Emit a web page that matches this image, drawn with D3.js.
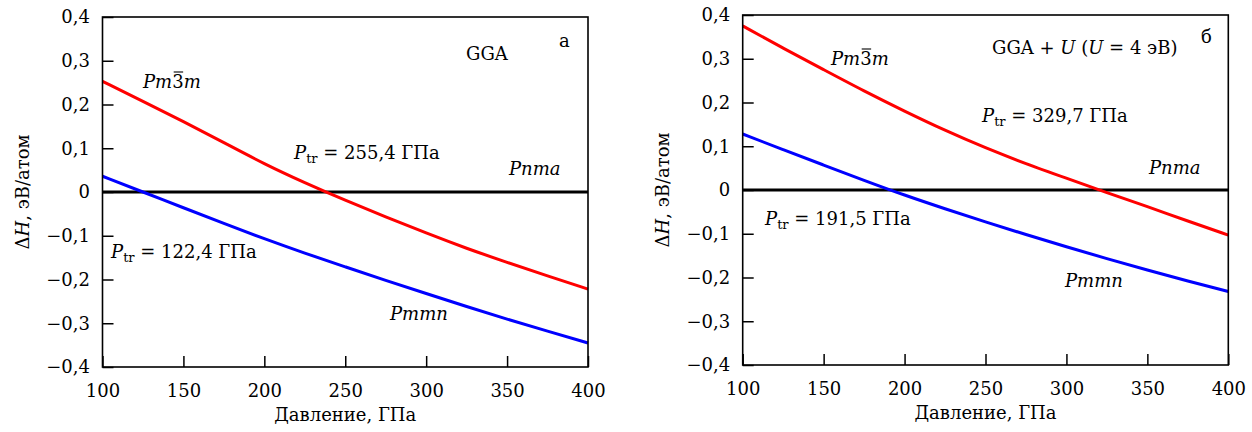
<!DOCTYPE html>
<html>
<head>
<meta charset="utf-8">
<script src="https://cdn.jsdelivr.net/npm/d3@7"></script>
<style>
  body { margin: 0; background: #fff; }
  svg { display: block; }
  .axis line { stroke: #000; stroke-width: 1.5px; }
  .axis path { display: none; }
</style>
</head>
<body>
<svg width="1252" height="432"></svg>
<script>
// pressure grid, ГПа
var pressure = [100, 125, 150, 175, 200, 225, 250, 275, 300, 325, 350, 375, 400];

// panel а: GGA, ΔH relative to Pnma, эВ/атом
var ggaCubic = [0.253, 0.207, 0.161, 0.113, 0.064, 0.021, -0.019, -0.057, -0.094, -0.129, -0.161, -0.192, -0.222];
var ggaPmmn  = [0.036, 0.000, -0.036, -0.072, -0.107, -0.140, -0.171, -0.202, -0.232, -0.262, -0.291, -0.318, -0.345];

// panel б: GGA + U
var ggauCubic = [0.375, 0.324, 0.275, 0.226, 0.180, 0.136, 0.096, 0.060, 0.027, -0.006, -0.038, -0.071, -0.103];
var ggauPmmn  = [0.128, 0.092, 0.057, 0.022, -0.012, -0.043, -0.073, -0.102, -0.130, -0.157, -0.183, -0.208, -0.232];

var xTicks = [100, 150, 200, 250, 300, 350, 400];
var yTicks = [-0.4, -0.3, -0.2, -0.1, 0, 0.1, 0.2, 0.3, 0.4];

var FONT = "'DejaVu Serif', serif";

var svg = d3.select("svg");

function fmtY(d) {
    if (d === 0) return "0";
    var s = Math.abs(d).toFixed(1).replace(".", ",");
    return d < 0 ? "\u2212" + s : s;
}

function drawPanel(p) {
    var x = d3.scaleLinear().domain([100, 400]).range([p.left, p.right]),
        y = d3.scaleLinear().domain([-0.4, 0.4]).range([p.bottom, p.top]);

    var g = svg.append("g")
        .attr("font-family", FONT)
        .attr("font-size", 18);

    g.append("g")
        .attr("class", "axis")
        .attr("transform", "translate(0," + p.bottom + ")")
        .call(d3.axisBottom(x).tickValues(xTicks).tickFormat(d3.format("d"))
            .tickSizeInner(-11).tickSizeOuter(0).tickPadding(17));

    g.append("g")
        .attr("class", "axis")
        .attr("transform", "translate(" + p.left + ",0)")
        .call(d3.axisLeft(y).tickValues(yTicks).tickFormat(fmtY)
            .tickSizeInner(-11).tickSizeOuter(0).tickPadding(12.5));

    // d3 axis puts its own font on the group; take ours back
    g.selectAll(".axis").attr("font-family", FONT).attr("font-size", 18);

    // zero line
    g.append("line")
        .attr("x1", x(100)).attr("x2", x(400))
        .attr("y1", y(0)).attr("y2", y(0))
        .attr("stroke", "#000").attr("stroke-width", 3);

    var line = d3.line()
        .curve(d3.curveBasis)
        .x(function(d, i) { return x(pressure[i]); })
        .y(function(d) { return y(d); });

    g.append("path").attr("d", line(p.cubic))
        .attr("fill", "none").attr("stroke", "#ff0000").attr("stroke-width", 3);
    g.append("path").attr("d", line(p.pmmn))
        .attr("fill", "none").attr("stroke", "#0000ff").attr("stroke-width", 3);

    // frame
    g.append("rect")
        .attr("x", p.left).attr("y", p.top)
        .attr("width", p.right - p.left).attr("height", p.bottom - p.top)
        .attr("fill", "none").attr("stroke", "#000").attr("stroke-width", 1.6);

    // axis titles
    g.append("text")
        .attr("x", (p.left + p.right) / 2).attr("y", p.bottom + 54)
        .attr("text-anchor", "middle")
        .text("Давление, ГПа");

    var yt = g.append("text")
        .attr("transform", "translate(" + (p.left - 74) + "," + y(0) + ") rotate(-90)")
        .attr("text-anchor", "middle");
    yt.append("tspan").text("\u0394");
    yt.append("tspan").attr("font-style", "italic").text("H");
    yt.append("tspan").text(", эВ/атом");

    // phase labels
    function cubicLabel(lx, ly) {
        var t = g.append("text").attr("x", lx).attr("y", ly);
        t.append("tspan").attr("font-style", "italic").text("Pm");
        t.append("tspan").text("3");
        t.append("tspan").attr("font-style", "italic").text("m");
        var n = t.node(),
            a = n.getStartPositionOfChar(2),
            b = n.getEndPositionOfChar(2);
        g.append("line")
            .attr("x1", a.x + 1.5).attr("x2", b.x - 0.5)
            .attr("y1", ly - 16).attr("y2", ly - 16)
            .attr("stroke", "#000").attr("stroke-width", 1.1);
    }
    function italicLabel(s, lx, ly) {
        g.append("text").attr("x", lx).attr("y", ly)
            .attr("font-style", "italic").text(s);
    }
    function ptrLabel(v, lx, ly) {
        var t = g.append("text").attr("x", lx).attr("y", ly);
        t.append("tspan").attr("font-style", "italic").text("P");
        t.append("tspan").attr("dy", 4).attr("font-size", 13).text("tr");
        t.append("tspan").attr("dy", -4).text(" = " + v + " ГПа");
    }

    cubicLabel(p.cubicAt[0], p.cubicAt[1]);
    italicLabel("Pnma", p.pnmaAt[0], p.pnmaAt[1]);
    italicLabel("Pmmn", p.pmmnAt[0], p.pmmnAt[1]);
    ptrLabel(p.ptrHigh, p.ptrHighAt[0], p.ptrHighAt[1]);
    ptrLabel(p.ptrLow, p.ptrLowAt[0], p.ptrLowAt[1]);

    g.append("text").attr("x", p.letterAt[0]).attr("y", p.letterAt[1])
        .text(p.letter);

    var mt = g.append("text").attr("x", p.methodAt[0]).attr("y", p.methodAt[1]);
    p.method.forEach(function(m) {
        mt.append("tspan").attr("font-style", m[1] ? "italic" : "normal").text(m[0]);
    });
}

drawPanel({
    left: 102.5, right: 588, top: 17, bottom: 367,
    cubic: ggaCubic, pmmn: ggaPmmn,
    cubicAt: [143, 88], pnmaAt: [509, 175], pmmnAt: [390, 320],
    ptrHigh: "255,4", ptrHighAt: [294, 159],
    ptrLow: "122,4", ptrLowAt: [111, 258],
    letter: "а", letterAt: [559, 47],
    method: [["GGA", false]], methodAt: [466, 60]
});

drawPanel({
    left: 742.7, right: 1228.3, top: 15, bottom: 365,
    cubic: ggauCubic, pmmn: ggauPmmn,
    cubicAt: [831, 65], pnmaAt: [1149, 174], pmmnAt: [1065, 287],
    ptrHigh: "329,7", ptrHighAt: [982, 122],
    ptrLow: "191,5", ptrLowAt: [765, 225],
    letter: "б", letterAt: [1201, 43],
    method: [["GGA + ", false], ["U", true], [" (", false], ["U", true], [" = 4 эВ)", false]],
    methodAt: [992, 54]
});
</script>
</body>
</html>
